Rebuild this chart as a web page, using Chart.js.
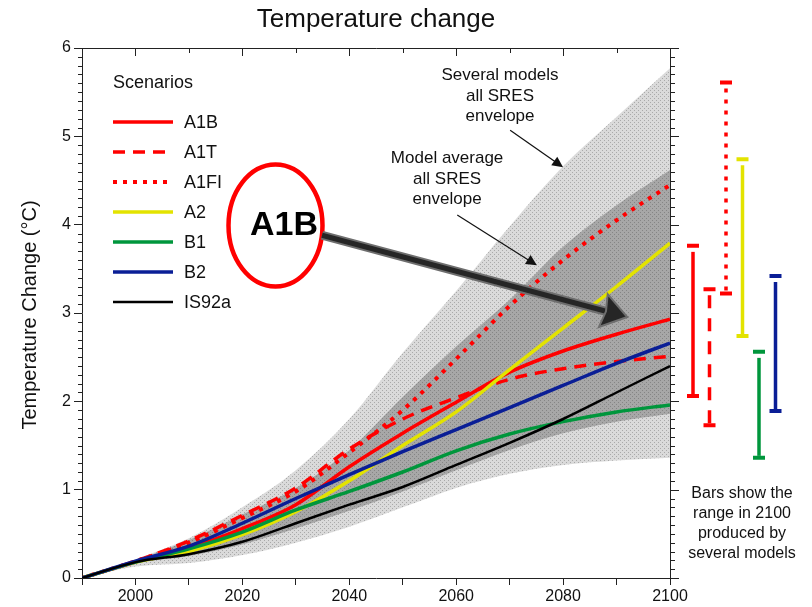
<!DOCTYPE html>
<html>
<head>
<meta charset="utf-8">
<title>Temperature change</title>
<script src="https://cdn.jsdelivr.net/npm/chart.js@4.4.1/dist/chart.umd.min.js"></script>
<style>
  html, body { margin: 0; padding: 0; background: #fff; }
  #wrap { width: 812px; height: 607px; }
</style>
</head>
<body>
<div id="wrap"><canvas id="tempChart"></canvas></div>
<script>
// Years and scenario projections (°C, relative to 1990)
const years = [1990, 2000, 2010, 2020, 2030, 2040, 2050, 2060, 2070, 2080, 2090, 2100];
const a1b   = [0, 0.18, 0.34, 0.56, 0.83, 1.26, 1.64, 1.99, 2.33, 2.57, 2.76, 2.93];
const a1t   = [0, 0.19, 0.42, 0.71, 1.02, 1.46, 1.80, 2.04, 2.25, 2.37, 2.45, 2.51];
const a1fi  = [0, 0.19, 0.40, 0.68, 0.98, 1.42, 1.90, 2.48, 3.08, 3.60, 4.05, 4.45];
const a2    = [0, 0.18, 0.30, 0.49, 0.75, 1.10, 1.50, 1.88, 2.36, 2.83, 3.30, 3.79];
const b1    = [0, 0.18, 0.33, 0.52, 0.77, 0.98, 1.20, 1.44, 1.63, 1.77, 1.88, 1.96];
const b2    = [0, 0.19, 0.36, 0.62, 0.90, 1.17, 1.43, 1.68, 1.93, 2.18, 2.43, 2.66];
const is92a = [0, 0.18, 0.27, 0.41, 0.62, 0.83, 1.03, 1.28, 1.53, 1.80, 2.10, 2.40];

// Envelopes
const allLow   = [0, 0.13, 0.17, 0.26, 0.40, 0.58, 0.80, 1.02, 1.18, 1.28, 1.33, 1.36];
const allHigh  = [0, 0.21, 0.45, 0.80, 1.22, 1.80, 2.55, 3.25, 3.98, 4.66, 5.22, 5.77];
const avgLow   = [0, 0.17, 0.25, 0.38, 0.56, 0.76, 0.98, 1.22, 1.45, 1.64, 1.77, 1.86];
const avgHigh  = [0, 0.20, 0.43, 0.72, 1.02, 1.45, 2.05, 2.62, 3.15, 3.75, 4.22, 4.62];

// Ranges in 2100 from several models (bars on the right)
const rangeNames = ['A1B', 'A1T', 'A1FI', 'A2', 'B1', 'B2'];
const rangeLow   = [2.06, 1.73, 3.22, 2.74, 1.36, 1.89];
const rangeHigh  = [3.76, 3.27, 5.61, 4.74, 2.56, 3.42];

const FONT = '"Liberation Sans", Arial, sans-serif';

const toPoints = arr => arr.map((v, i) => ({ x: years[i], y: v }));

const canvas = document.getElementById('tempChart');
function makePattern(base, dot) {
    const c = document.createElement('canvas');
    c.width = 4; c.height = 4;
    const g = c.getContext('2d');
    g.fillStyle = base;
    g.fillRect(0, 0, 4, 4);
    g.fillStyle = dot;
    g.fillRect(0, 0, 1, 1);
    g.fillRect(2, 2, 1, 1);
    return canvas.getContext('2d').createPattern(c, 'repeat');
}
const lightFill = makePattern('#dadada', '#a9a9a9');
const darkFill = makePattern('#a7a7a7', '#858585');

const scenarioStyles = [
    { label: 'A1B',   data: a1b,   color: '#ff0000', dash: [],     width: 3.5 },
    { label: 'A1T',   data: a1t,   color: '#ff0000', dash: [12, 8], width: 3.5 },
    { label: 'A1FI',  data: a1fi,  color: '#ff0000', dash: [4, 6],  width: 4 },
    { label: 'A2',    data: a2,    color: '#e3e300', dash: [],     width: 3.5 },
    { label: 'B1',    data: b1,    color: '#00963c', dash: [],     width: 3.5 },
    { label: 'B2',    data: b2,    color: '#0a1e96', dash: [],     width: 3.5 },
    { label: 'IS92a', data: is92a, color: '#000000', dash: [],     width: 2.5 }
];

function envelope(label, data, fill, bg, order) {
    return {
        label: label,
        data: toPoints(data),
        borderWidth: 0,
        borderColor: 'rgba(0,0,0,0)',
        backgroundColor: bg,
        fill: fill,
        pointRadius: 0,
        cubicInterpolationMode: 'monotone',
        order: order
    };
}

const datasets = [
    envelope('allLow', allLow, false, 'rgba(0,0,0,0)', 20),
    envelope('allHigh', allHigh, '-1', lightFill, 20),
    envelope('avgLow', avgLow, false, 'rgba(0,0,0,0)', 19),
    envelope('avgHigh', avgHigh, '-1', darkFill, 19)
];
scenarioStyles.forEach((s, i) => {
    datasets.push({
        label: s.label,
        data: toPoints(s.data),
        borderColor: s.color,
        borderWidth: s.width,
        borderDash: s.dash,
        borderCapStyle: 'butt',
        pointRadius: 0,
        fill: false,
        cubicInterpolationMode: 'monotone',
        order: 7 - i
    });
});

// Everything drawn around the plot: frame, minor ticks, title, legend, notes, range bars
const decorPlugin = {
    id: 'decor',
    beforeDraw(chart) {
        const ctx = chart.ctx;
        ctx.save();
        ctx.fillStyle = '#fff';
        ctx.fillRect(0, 0, chart.width, chart.height);
        ctx.restore();
    },
    afterDraw(chart) {
        const { ctx, chartArea: a, scales: { x, y } } = chart;
        ctx.save();

        // frame top + right
        ctx.strokeStyle = '#222';
        ctx.lineWidth = 1;
        ctx.beginPath();
        ctx.moveTo(a.left, a.top + 0.5);
        ctx.lineTo(a.right + 0.5, a.top + 0.5);
        ctx.lineTo(a.right + 0.5, a.bottom);
        ctx.stroke();

        // y minor ticks (left outward) and right axis ticks (outward)
        ctx.beginPath();
        for (let k = 0; k <= 60; k++) {
            const py = Math.round(y.getPixelForValue(k / 10)) + 0.5;
            const major = k % 10 === 0;
            if (!major) {
                ctx.moveTo(a.left - 4, py);
                ctx.lineTo(a.left, py);
            }
            ctx.moveTo(a.right, py);
            ctx.lineTo(a.right + (major ? 9 : 5), py);
        }
        // top ticks (inward)
        for (let yr = 1990; yr <= 2100; yr += 10) {
            const px = Math.round(x.getPixelForValue(yr)) + 0.5;
            ctx.moveTo(px, a.top);
            ctx.lineTo(px, a.top + (yr % 20 === 0 ? 8 : 5));
        }
        ctx.stroke();

        // title
        ctx.fillStyle = '#111';
        ctx.textAlign = 'center';
        ctx.textBaseline = 'middle';
        ctx.font = '26px ' + FONT;
        ctx.fillText('Temperature change', (a.left + a.right) / 2, 20);

        // y axis title
        ctx.save();
        ctx.translate(30, (a.top + a.bottom) / 2 + 2);
        ctx.rotate(-Math.PI / 2);
        ctx.font = '20px ' + FONT;
        ctx.fillText('Temperature Change (\u00B0C)', 0, 0);
        ctx.restore();

        // legend
        ctx.textAlign = 'left';
        ctx.font = '18px ' + FONT;
        ctx.fillText('Scenarios', a.left + 31, a.top + 35);
        scenarioStyles.forEach((s, i) => {
            const ly = a.top + 74 + i * 30;
            ctx.save();
            ctx.strokeStyle = s.color;
            ctx.lineWidth = s.width;
            ctx.setLineDash(s.dash);
            ctx.beginPath();
            ctx.moveTo(a.left + 31, ly);
            ctx.lineTo(a.left + 91, ly);
            ctx.stroke();
            ctx.restore();
            ctx.fillStyle = '#111';
            ctx.fillText(s.label, a.left + 102, ly + 1);
        });

        // envelope notes with thin arrows
        ctx.textAlign = 'center';
        ctx.font = '17px ' + FONT;
        const note = (lines, yr, val) => {
            const px = x.getPixelForValue(yr), py = y.getPixelForValue(val);
            lines.forEach((t, i) => ctx.fillText(t, px, py + i * 20.5));
        };
        note(['Several models', 'all SRES', 'envelope'], 2068.2, 5.69);
        note(['Model average', 'all SRES', 'envelope'], 2058.3, 4.75);

        const arrow = (y1, v1, y2, v2, w, head, color) => {
            const x1 = x.getPixelForValue(y1), p1 = y.getPixelForValue(v1);
            const x2 = x.getPixelForValue(y2), p2 = y.getPixelForValue(v2);
            const ang = Math.atan2(p2 - p1, x2 - x1);
            ctx.strokeStyle = color;
            ctx.fillStyle = color;
            ctx.lineWidth = w;
            ctx.beginPath();
            ctx.moveTo(x1, p1);
            ctx.lineTo(x2 - Math.cos(ang) * head * 0.8, p2 - Math.sin(ang) * head * 0.8);
            ctx.stroke();
            ctx.beginPath();
            ctx.moveTo(x2, p2);
            ctx.lineTo(x2 - head * Math.cos(ang - 0.45), p2 - head * Math.sin(ang - 0.45));
            ctx.lineTo(x2 - head * Math.cos(ang + 0.45), p2 - head * Math.sin(ang + 0.45));
            ctx.closePath();
            ctx.fill();
        };
        arrow(2070.1, 5.07, 2080.0, 4.65, 1.2, 12, '#111');
        arrow(2060.2, 4.11, 2075.1, 3.54, 1.2, 12, '#111');

        // A1B callout
        const cx = x.getPixelForValue(2026.2), cy = y.getPixelForValue(3.99);
        ctx.strokeStyle = '#ff0000';
        ctx.lineWidth = 4.5;
        ctx.beginPath();
        ctx.ellipse(cx, cy, 47, 61, 0, 0, Math.PI * 2);
        ctx.stroke();

        // big arrow
        const bx1 = x.getPixelForValue(2034.9), by1 = y.getPixelForValue(3.88);
        const bx2 = x.getPixelForValue(2092.0), by2 = y.getPixelForValue(2.955);
        const ang = Math.atan2(by2 - by1, bx2 - bx1);
        const ex = bx2 - Math.cos(ang) * 22, ey = by2 - Math.sin(ang) * 22;
        ctx.lineCap = 'butt';
        ctx.strokeStyle = '#6e6e6e';
        ctx.lineWidth = 9;
        ctx.beginPath(); ctx.moveTo(bx1, by1); ctx.lineTo(ex, ey); ctx.stroke();
        ctx.strokeStyle = '#262626';
        ctx.lineWidth = 5;
        ctx.beginPath(); ctx.moveTo(bx1, by1); ctx.lineTo(ex, ey); ctx.stroke();
        ctx.fillStyle = '#262626';
        ctx.strokeStyle = '#6e6e6e';
        ctx.lineWidth = 2;
        ctx.beginPath();
        ctx.moveTo(bx2, by2);
        ctx.lineTo(bx2 - 30 * Math.cos(ang - 0.6), by2 - 30 * Math.sin(ang - 0.6));
        ctx.lineTo(ex, ey);
        ctx.lineTo(bx2 - 30 * Math.cos(ang + 0.6), by2 - 30 * Math.sin(ang + 0.6));
        ctx.closePath();
        ctx.fill();
        ctx.stroke();

        ctx.fillStyle = '#000';
        ctx.font = 'bold 34px ' + FONT;
        ctx.fillText('A1B', x.getPixelForValue(2027.8), y.getPixelForValue(4.0) + 1);

        // range bars in 2100
        rangeNames.forEach((name, i) => {
            const s = scenarioStyles.find(d => d.label === name);
            const bx = a.right + 23 + i * 16.5;
            const top = y.getPixelForValue(rangeHigh[i]);
            const bot = y.getPixelForValue(rangeLow[i]);
            ctx.strokeStyle = s.color;
            ctx.lineWidth = 3.5;
            ctx.setLineDash(s.dash.length ? (name === 'A1T' ? [13, 10] : [4, 7]) : []);
            ctx.beginPath();
            ctx.moveTo(bx, top + 6);
            ctx.lineTo(bx, bot - 2);
            ctx.stroke();
            ctx.setLineDash([]);
            ctx.lineWidth = 4;
            ctx.beginPath();
            ctx.moveTo(bx - 6, top); ctx.lineTo(bx + 6, top);
            ctx.moveTo(bx - 6, bot); ctx.lineTo(bx + 6, bot);
            ctx.stroke();
        });

        ctx.fillStyle = '#111';
        ctx.font = '16px ' + FONT;
        ['Bars show the', 'range in 2100', 'produced by', 'several models'].forEach((t, i) => {
            ctx.fillText(t, a.right + 72, y.getPixelForValue(0.96) + i * 20);
        });

        ctx.restore();
    }
};

new Chart(canvas, {
    type: 'line',
    data: { datasets: datasets },
    options: {
        responsive: true,
        maintainAspectRatio: false,
        animation: false,
        devicePixelRatio: 1,
        layout: { padding: { top: 48, right: 142, left: 0, bottom: 0 } },
        scales: {
            x: {
                type: 'linear',
                min: 1990,
                max: 2100,
                afterFit: s => { s.height = 29; },
                ticks: {
                    stepSize: 10,
                    autoSkip: false,
                    maxRotation: 0,
                    padding: 2,
                    color: '#111',
                    font: { size: 16, family: FONT },
                    callback: v => (v % 20 === 0 ? String(v) : '')
                },
                grid: { drawOnChartArea: false, tickLength: 7, color: '#222' },
                border: { color: '#222' }
            },
            y: {
                min: 0,
                max: 6,
                afterFit: s => { s.width = 82; },
                ticks: {
                    stepSize: 1,
                    padding: 3,
                    color: '#111',
                    font: { size: 16, family: FONT }
                },
                grid: { drawOnChartArea: false, tickLength: 8, color: '#222' },
                border: { color: '#222' }
            }
        },
        plugins: {
            legend: { display: false },
            tooltip: { enabled: false },
            title: { display: false }
        }
    },
    plugins: [decorPlugin]
});
</script>
</body>
</html>
